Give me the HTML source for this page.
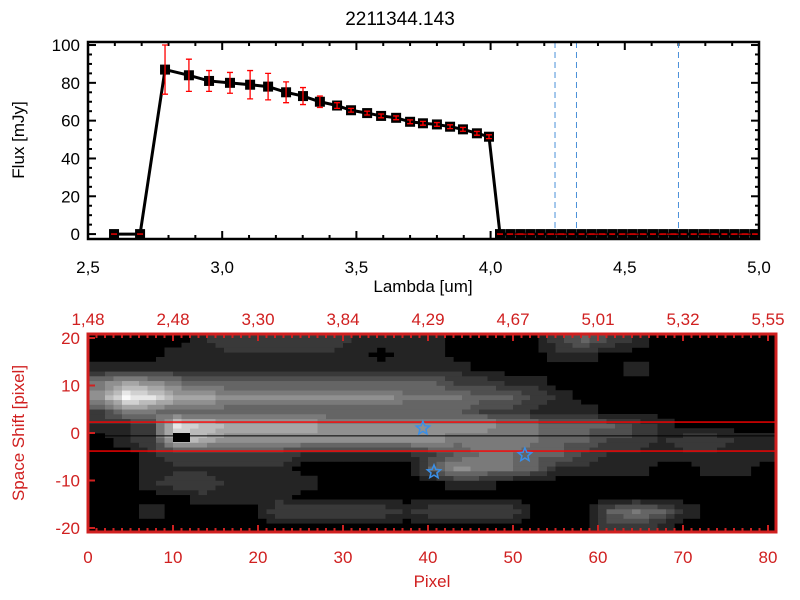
<!DOCTYPE html>
<html><head><meta charset="utf-8"><style>
html,body{margin:0;padding:0;background:#fff;}
svg{display:block;font-family:"Liberation Sans",sans-serif;}
</style></head><body>
<svg id="c" width="800" height="600" viewBox="0 0 800 600">
<rect width="800" height="600" fill="#fff"/>
<text x="400" y="25" text-anchor="middle" font-size="19" fill="#000">2211344.143</text>
<g id="top"></g>
<g id="bot"></g>
</svg>
<script>
// ---- spectrum data ----
const lambdas = [2.597,2.694,2.787,2.876,2.951,3.029,3.104,3.171,3.238,3.301,3.364,3.428,3.480,3.540,3.592,3.648,3.700,3.748,3.800,3.849,3.897,3.949,3.994,
4.035,4.073,4.111,4.149,4.187,4.225,4.263,4.301,4.339,4.377,4.415,4.453,4.491,4.529,4.567,4.605,4.643,4.681,4.719,4.757,4.795,4.833,4.871,4.909,4.947,4.985];
const fluxes = [0,0,87,84,81,80,79,78,75,73,70,68,65.5,64,62.5,61.5,59.4,58.6,58,56.8,55.4,53.3,51.5,
0,0,0,0,0,0,0,0,0,0,0,0,0,0,0,0,0,0,0,0,0,0,0,0,0,0];
const fluxErrs = [0,0,13,8.5,5.5,5.5,7.5,7,5.5,4.5,3,1.5,1,1,1,1,1,1,1,1,1,1,1,
0,0,0,0,0,0,0,0,0,0,0,0,0,0,0,0,0,0,0,0,0,0,0,0,0,0];
const lineLambdas = [4.24,4.32,4.70];
const xTicksTop = [2.5,3.0,3.5,4.0,4.5,5.0];
const xTickLabelsTop = ["2,5","3,0","3,5","4,0","4,5","5,0"];
const yTicksTop = [0,20,40,60,80,100];

// ---- image data (coarse grid, 3 px x 3 units per cell, rows top->bottom) ----
const heatRowsY = [19.5,16.5,13.5,10.5,7.5,4.5,1.5,-1.5,-4.5,-7.5,-10.5,-13.5,-16.5,-19.5];
const heat = [
[0,0,0,0,1,2,2,2,2,2,1,1,1,1,0,0,0,0,2,3,2,1,0,0,0,0,0],
[0,0,0,1,1,1,1,1,1,1,1,0,1,1,0,0,0,0,1,1,0,0,0,0,0,0,0],
[1,1,1,1,1,1,1,1,1,1,1,1,1,1,1,0,0,0,0,0,0,1,0,0,0,0,0],
[4,6,5,4,3,3,3,3,3,3,3,3,3,3,2,2,1,1,0,0,0,0,0,0,0,0,0],
[5,9,8,6,6,5,5,5,5,5,5,5,4,4,4,3,3,2,1,0,0,0,0,0,0,0,0],
[2,4,4,3,3,3,3,3,3,3,3,3,3,3,3,2,2,1,1,1,0,0,0,0,0,0,0],
[1,1,2,8,7,6,6,6,6,5,5,5,5,5,5,5,4,4,3,3,3,2,1,0,0,0,0],
[0,1,2,7,6,5,5,5,5,5,5,5,5,5,4,4,4,4,3,3,2,2,1,2,2,1,1],
[0,0,1,2,2,2,2,2,1,1,1,1,1,2,3,4,4,3,3,2,1,1,1,1,1,1,1],
[0,0,1,1,1,1,1,1,0,0,0,0,0,3,5,4,4,3,1,1,1,1,0,0,1,1,0],
[0,0,1,2,2,1,1,1,1,0,0,0,0,0,1,1,0,0,0,0,0,0,0,0,0,0,0],
[0,0,0,0,1,1,1,1,0,0,0,0,0,0,0,0,0,0,0,0,0,0,0,0,0,0,0],
[0,0,1,0,0,0,0,2,2,2,2,2,1,2,2,2,2,0,0,0,3,4,3,1,0,0,0],
[0,0,0,0,0,0,0,0,0,0,0,0,0,0,0,0,0,0,0,0,2,2,1,0,0,0,0]];
const heatCellW = 3;
const starPix = [39.4,40.7,51.4];
const starShift = [1.0,-8.2,-4.6];
const bandLines = [2.3,-3.8];
const centerLine = -0.6;
const xTicksBot = [0,10,20,30,40,50,60,70,80];
const topLabelsBot = ["1,48","2,48","3,30","3,84","4,29","4,67","5,01","5,32","5,55"];
const yTicksBot = [20,10,0,-10,-20];

const NS="http://www.w3.org/2000/svg";
function mk(parent,tag,attrs,text){const e=document.createElementNS(NS,tag);for(const k in attrs)e.setAttribute(k,attrs[k]);if(text!==undefined)e.textContent=text;parent.appendChild(e);return e;}

// ===== top panel =====
const T=document.getElementById('top');
const L=88,R=759,TT=42,TB=239;
const xs=v=>L+(v-2.5)/2.5*(R-L);
const ys=v=>TB-(v+2.6)/104.2*(TB-TT);
for(let v=2.5;v<=5.0001;v+=0.1){const x=xs(v);const maj=Math.abs(v*2-Math.round(v*2))<1e-6;const len=maj?8:4;
 let t=mk(T,'line',{x1:x,x2:x,y1:TB,y2:TB-len,stroke:'#000','stroke-width':2});
 
 t=mk(T,'line',{x1:x,x2:x,y1:TT,y2:TT+len,stroke:'#000','stroke-width':2});
 }
for(let v=0;v<=100;v+=5){const y=ys(v);const maj=v%20===0;const len=maj?8:4;
 let t=mk(T,'line',{x1:L,x2:L+len,y1:y,y2:y,stroke:'#000','stroke-width':2});
 
 t=mk(T,'line',{x1:R,x2:R-len,y1:y,y2:y,stroke:'#000','stroke-width':2});
 }
xTicksTop.forEach((v,i)=>{const t=mk(T,'text',{x:xs(v),y:273,'text-anchor':'middle','font-size':17,fill:'#000'},xTickLabelsTop[i]);
 });
yTicksTop.forEach(v=>{const t=mk(T,'text',{x:80,y:ys(v)+6,'text-anchor':'end','font-size':17,fill:'#000'},String(v));
 });
let xt=mk(T,'text',{x:423,y:292,'text-anchor':'middle','font-size':17,fill:'#000'},'Lambda [um]');

let yt=mk(T,'text',{x:24,y:140,'text-anchor':'middle','font-size':17,fill:'#000',transform:'rotate(-90 24 140)'},'Flux [mJy]');

lineLambdas.forEach(v=>{const l=mk(T,'line',{x1:xs(v),x2:xs(v),y1:TT,y2:TB,stroke:'#4a90d9','stroke-width':1,'stroke-dasharray':'6,4'});
 });
const pts=lambdas.map((v,i)=>xs(v)+','+ys(fluxes[i])).join(' ');
let pl=mk(T,'polyline',{points:pts,fill:'none',stroke:'#000','stroke-width':3});

lambdas.forEach((v,i)=>{const x=xs(v),y=ys(fluxes[i]);
 const s=mk(T,'rect',{x:x-5,y:y-5,width:10,height:10,fill:'#000'});
 
 const e=fluxErrs[i];const y1=ys(fluxes[i]+e),y2=ys(fluxes[i]-e);
 const g=mk(T,'path',{d:`M${x},${y1}V${y2}M${x-3},${y1}H${x+3}M${x-3},${y2}H${x+3}`,stroke:'#f00','stroke-width':1.3,fill:'none'});
 });
let zl=mk(T,'line',{x1:xs(4.03),x2:R,y1:ys(0),y2:ys(0),stroke:'#f00','stroke-width':1,'stroke-dasharray':'4,4'});

let fr=mk(T,'rect',{x:L,y:TT,width:R-L,height:TB-TT,fill:'none',stroke:'#000','stroke-width':2.5});


// ===== bottom panel =====
const B=document.getElementById('bot');
const BL=88,BR=776,BT=334,BB=532;
const px=v=>BL+v*8.5;
const py=v=>433-v*4.75;
mk(B,'rect',{x:BL,y:BT,width:BR-BL,height:BB-BT,fill:'#000'});
// bilinear sample of coarse grid
function sample(xp,yv){
 const nc=heat[0].length,nr=heat.length;
 let fc=(xp-heatCellW/2)/heatCellW; fc=Math.max(0,Math.min(nc-1,fc));
 const r0=heatRowsY[0],dr=heatRowsY[0]-heatRowsY[1];
 let fr=(r0-yv)/dr; fr=Math.max(0,Math.min(nr-1,fr));
 const c0=Math.floor(fc),c1=Math.min(nc-1,c0+1),tc=fc-c0;
 const q0=Math.floor(fr),q1=Math.min(nr-1,q0+1),tr=fr-q0;
 const a=heat[q0][c0]*(1-tc)+heat[q0][c1]*tc, b=heat[q1][c0]*(1-tc)+heat[q1][c1]*tc;
 return a*(1-tr)+b*tr;}
for(let i=0;i<81;i++){for(let j=-21;j<21;j++){
 const v=sample(i+0.5,j+0.5); const q=Math.round(v*1.2)/1.2;
 if(q<0.6)continue;
 const g=Math.min(250,Math.round(q*26+14));
 const y0=Math.max(BT,py(j+1)),y1=Math.min(BB,py(j));
 if(y1<=y0)continue;
 const c=mk(B,'rect',{x:px(i),y:y0,width:8.6,height:y1-y0+0.3,fill:`rgb(${g},${g},${g})`});
 }}
bandLines.forEach(v=>{const l=mk(B,'line',{x1:BL,x2:BR,y1:py(v),y2:py(v),stroke:'#f00','stroke-width':1.3});
 });
let cl=mk(B,'line',{x1:BL,x2:BR,y1:py(centerLine),y2:py(centerLine),stroke:'#000','stroke-width':1});

let bx=mk(B,'rect',{x:px(10),y:py(0),width:px(12)-px(10),height:9,fill:'#000'});

function starPath(cx,cy,r){let d='';for(let k=0;k<10;k++){const a=-Math.PI/2+k*Math.PI/5;const rr=k%2?r*0.45:r;d+=(k?'L':'M')+(cx+rr*Math.cos(a)).toFixed(1)+','+(cy+rr*Math.sin(a)).toFixed(1);}return d+'Z';}
starPix.forEach((v,i)=>{const s=mk(B,'path',{d:starPath(px(v),py(starShift[i]),7),fill:'none',stroke:'#3a8fe8','stroke-width':1.5});
 });
const red='#d02020';
for(let v=0;v<=81;v++){const x=px(v);const maj=v%10===0;const len=maj?7:4;
 let t=mk(B,'line',{x1:x,x2:x,y1:BB,y2:BB-len,stroke:red,'stroke-width':2});
 
 t=mk(B,'line',{x1:x,x2:x,y1:BT,y2:BT+len,stroke:red,'stroke-width':2});
 }
yTicksBot.forEach(v=>{let t=mk(B,'line',{x1:BL,x2:BL+7,y1:py(v),y2:py(v),stroke:red,'stroke-width':2});
 
 t=mk(B,'text',{x:80,y:py(v)+6,'text-anchor':'end','font-size':17,fill:red},String(v));
 });
xTicksBot.forEach((v,i)=>{let t=mk(B,'text',{x:px(v),y:563,'text-anchor':'middle','font-size':17,fill:red},String(v));
 
 t=mk(B,'text',{x:px(v),y:325,'text-anchor':'middle','font-size':17,fill:red},topLabelsBot[i]);
 });
let bxt=mk(B,'text',{x:432,y:587,'text-anchor':'middle','font-size':17,fill:red},'Pixel');

let byt=mk(B,'text',{x:24,y:433,'text-anchor':'middle','font-size':17,fill:red,transform:'rotate(-90 24 433)'},'Space Shift [pixel]');

let bf=mk(B,'rect',{x:BL,y:BT,width:BR-BL,height:BB-BT,fill:'none',stroke:red,'stroke-width':3});

</script>
</body></html>
